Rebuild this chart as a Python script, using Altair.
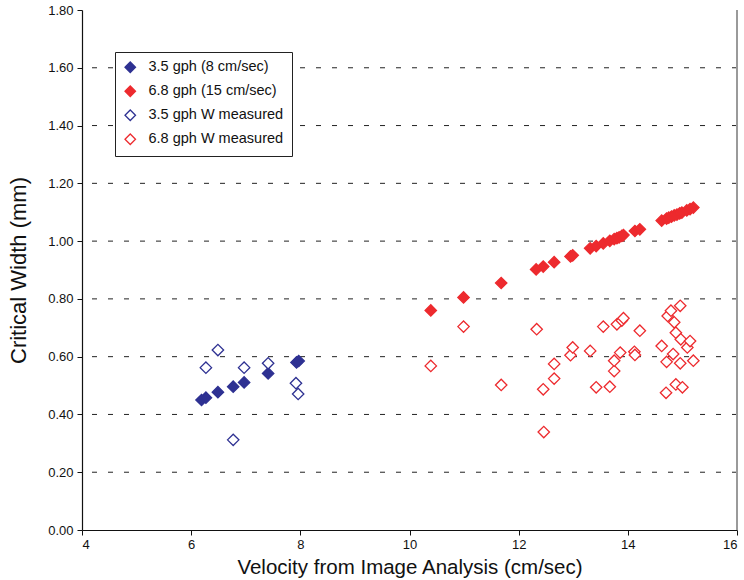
import altair as alt
import pandas as pd

# 3.5 gph runs: critical width from model vs. image-analysis velocity
blue_x = [6.19, 6.27, 6.49, 6.77, 6.97, 7.41, 7.93, 7.97]
blue_y = [0.450, 0.458, 0.477, 0.496, 0.511, 0.542, 0.580, 0.585]

# 6.8 gph runs
red_x = [10.39, 10.99, 11.68, 12.32, 12.45, 12.65, 12.95, 12.99, 13.31, 13.42,
         13.55, 13.67, 13.75, 13.80, 13.84, 13.89, 13.92, 14.13, 14.22, 14.62,
         14.71, 14.75, 14.80, 14.85, 14.90, 14.95, 14.99, 15.08, 15.14, 15.20]
red_y = [0.760, 0.805, 0.855, 0.902, 0.912, 0.927, 0.947, 0.951, 0.975, 0.983,
         0.992, 1.001, 1.007, 1.010, 1.013, 1.018, 1.021, 1.035, 1.041, 1.071,
         1.078, 1.081, 1.085, 1.089, 1.092, 1.096, 1.099, 1.106, 1.111, 1.116]

# measured widths
blue_open_x = [6.27, 6.49, 6.77, 6.97, 7.41, 7.92, 7.96]
blue_open_y = [0.562, 0.623, 0.312, 0.562, 0.577, 0.508, 0.471]

red_open_x = [10.39, 10.99, 11.68, 12.33, 12.45, 12.46, 12.65, 12.65, 12.95, 12.99,
              13.31, 13.42, 13.55, 13.67, 13.75, 13.75, 13.80, 13.86, 13.89, 13.92,
              14.12, 14.13, 14.22, 14.62, 14.70, 14.71, 14.73, 14.79, 14.83, 14.85,
              14.88, 14.88, 14.96, 14.96, 14.97, 15.00, 15.09, 15.14, 15.20]
red_open_y = [0.568, 0.704, 0.502, 0.695, 0.487, 0.339, 0.575, 0.524, 0.605, 0.632,
              0.620, 0.494, 0.704, 0.496, 0.550, 0.586, 0.712, 0.614, 0.725, 0.733,
              0.617, 0.606, 0.690, 0.637, 0.475, 0.582, 0.741, 0.759, 0.609, 0.719,
              0.683, 0.504, 0.577, 0.776, 0.660, 0.494, 0.632, 0.654, 0.586]

series_names = ["3.5 gph (8 cm/sec)", "6.8 gph (15 cm/sec)",
                "3.5 gph W measured", "6.8 gph W measured"]
BLUE = "#2e3192"
RED = "#ed2a2e"

frames = []
for name, xs, ys in [(series_names[0], blue_x, blue_y),
                     (series_names[1], red_x, red_y),
                     (series_names[2], blue_open_x, blue_open_y),
                     (series_names[3], red_open_x, red_open_y)]:
    frames.append(pd.DataFrame({"v": xs, "w": ys, "series": name}))
df = pd.concat(frames, ignore_index=True)

grid_vals = pd.DataFrame({"g": [0.2, 0.4, 0.6, 0.8, 1.0, 1.2, 1.4, 1.6]})

x_scale = alt.Scale(domain=[4, 16], nice=False, zero=False)
y_scale = alt.Scale(domain=[0, 1.8], nice=False)

grid = alt.Chart(grid_vals).mark_rule(
    color="#222222", strokeWidth=1, strokeDash=[5, 11]
).encode(y=alt.Y("g:Q", scale=y_scale))

right_edge = alt.Chart(pd.DataFrame({"x": [16]})).mark_rule(
    color="#9a9a9a", strokeWidth=2
).encode(x=alt.X("x:Q", scale=x_scale))

legend = alt.Legend(title=None, orient="none", legendX=33, legendY=42)

points = alt.Chart(df).mark_point(
    shape="diamond", size=130, strokeWidth=1.3, opacity=1
).encode(
    x=alt.X("v:Q", scale=x_scale,
            axis=alt.Axis(title="Velocity from Image Analysis (cm/sec)",
                          values=[4, 6, 8, 10, 12, 14, 16], format="d",
                          grid=False)),
    y=alt.Y("w:Q", scale=y_scale,
            axis=alt.Axis(title="Critical Width (mm)",
                          values=[0, 0.2, 0.4, 0.6, 0.8, 1.0, 1.2, 1.4, 1.6, 1.8],
                          format=".2f", grid=False)),
    stroke=alt.Stroke("series:N",
                      scale=alt.Scale(domain=series_names,
                                      range=[BLUE, RED, BLUE, RED]),
                      legend=legend),
    fill=alt.Fill("series:N",
                  scale=alt.Scale(domain=series_names,
                                  range=[BLUE, RED, "white", "white"]),
                  legend=legend),
)

chart = alt.layer(grid, right_edge, points).properties(
    width=655, height=520,
    autosize=alt.AutoSizeParams(type="none"),
    padding={"left": 82, "top": 10, "right": 7, "bottom": 50},
).configure_view(stroke=None).configure_axis(
    domainColor="#111111", domainWidth=1.2,
    tickColor="#111111", tickSize=5,
    labelFont="Liberation Sans", labelFontSize=13, labelColor="#111111",
    titleFont="Liberation Sans", titleFontWeight="normal",
    titleColor="#111111",
).configure_axisX(
    labelPadding=3, titlePadding=6, titleFontSize=20.5
).configure_axisY(
    labelPadding=4, titlePadding=17, titleFontSize=22
).configure_legend(
    symbolType="diamond", symbolSize=110, symbolStrokeWidth=1.3,
    labelFont="Liberation Sans", labelFontSize=14.5, labelColor="#111111",
    strokeColor="#222222", fillColor="white", padding=8,
    rowPadding=7, labelOffset=11, symbolOffset=0,
)

chart.save("out.html", embed_options={"renderer": "svg", "actions": False})
